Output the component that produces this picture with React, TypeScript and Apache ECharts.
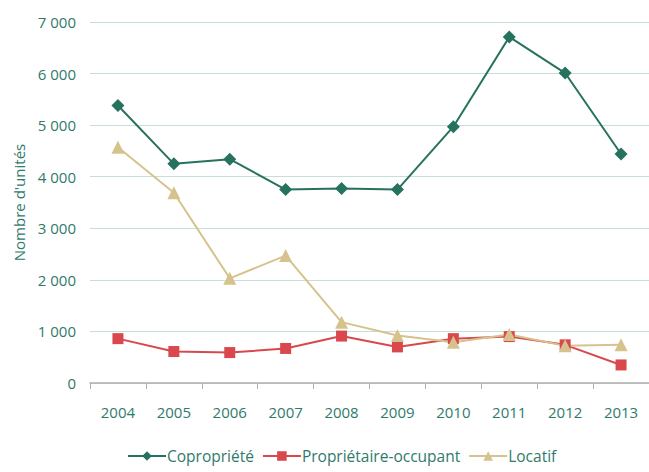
import React, { useEffect, useRef } from "react";
import * as echarts from "echarts";

const years = ["2004", "2005", "2006", "2007", "2008", "2009", "2010", "2011", "2012", "2013"];
const copropriete = [5380, 4250, 4340, 3750, 3770, 3750, 4970, 6710, 6010, 4440];
const proprietaire = [860, 610, 590, 670, 910, 700, 860, 900, 740, 350];
const locatif = [4570, 3690, 2030, 2470, 1180, 920, 790, 940, 720, 740];

const TEXT = "#2f7a6c";
const FONT = "'Open Sans', sans-serif";

export default function App() {
  const ref = useRef<HTMLDivElement>(null);
  useEffect(() => {
    const chart = echarts.init(ref.current!, null, { renderer: "svg" });
    chart.setOption({
      animation: false,
      textStyle: { fontFamily: FONT },
      grid: { left: 90, right: 0, top: 22, bottom: 89, outerBoundsMode: "none", containLabel: false },
      legend: {
        bottom: 3,
        left: 122,
        itemWidth: 38,
        itemHeight: 12,
        itemGap: 8,
        textStyle: { color: TEXT, fontSize: 15.5, fontFamily: FONT, padding: [0, 0, 0, -4] },
        data: ["Copropriété", "Propriétaire-occupant", "Locatif"],
      },
      xAxis: {
        type: "category",
        data: years,
        boundaryGap: true,
        axisLine: { lineStyle: { color: "#b0b0b0", width: 1.5 } },
        axisTick: { show: true, length: 6, lineStyle: { color: "#b0b0b0" } },
        axisLabel: { color: TEXT, fontSize: 15, margin: 21, fontFamily: FONT },
      },
      yAxis: {
        type: "value",
        min: 0,
        max: 7000,
        interval: 1000,
        name: "Nombre d'unités",
        nameLocation: "middle",
        nameGap: 62,
        nameTextStyle: { color: TEXT, fontSize: 15, fontFamily: FONT },
        axisLine: { show: false },
        axisTick: { show: false },
        axisLabel: {
          color: TEXT,
          fontSize: 15,
          margin: 14,
          fontFamily: FONT,
          formatter: (v: number) => (v >= 1000 ? `${Math.floor(v / 1000)} ${String(v % 1000).padStart(3, "0")}` : String(v)),
        },
        splitLine: { lineStyle: { color: "#c6dfd8", width: 1 } },
      },
      series: [
        {
          name: "Copropriété",
          type: "line",
          data: copropriete,
          symbol: "diamond",
          symbolSize: 13,
          color: "#26725f",
          lineStyle: { width: 2, color: "#26725f" },
          itemStyle: { color: "#26725f" },
        },
        {
          name: "Propriétaire-occupant",
          type: "line",
          data: proprietaire,
          symbol: "rect",
          symbolSize: 11,
          color: "#d9484c",
          lineStyle: { width: 2, color: "#d9484c" },
          itemStyle: { color: "#d9484c" },
        },
        {
          name: "Locatif",
          type: "line",
          data: locatif,
          symbol: "triangle",
          symbolSize: 13,
          color: "#d6c28c",
          lineStyle: { width: 2, color: "#d6c28c" },
          itemStyle: { color: "#d6c28c" },
        },
      ],
    });
    return () => chart.dispose();
  }, []);
  return <div ref={ref} style={{ width: 649, height: 472, position: "absolute", left: 0, top: 0 }} />;
}
